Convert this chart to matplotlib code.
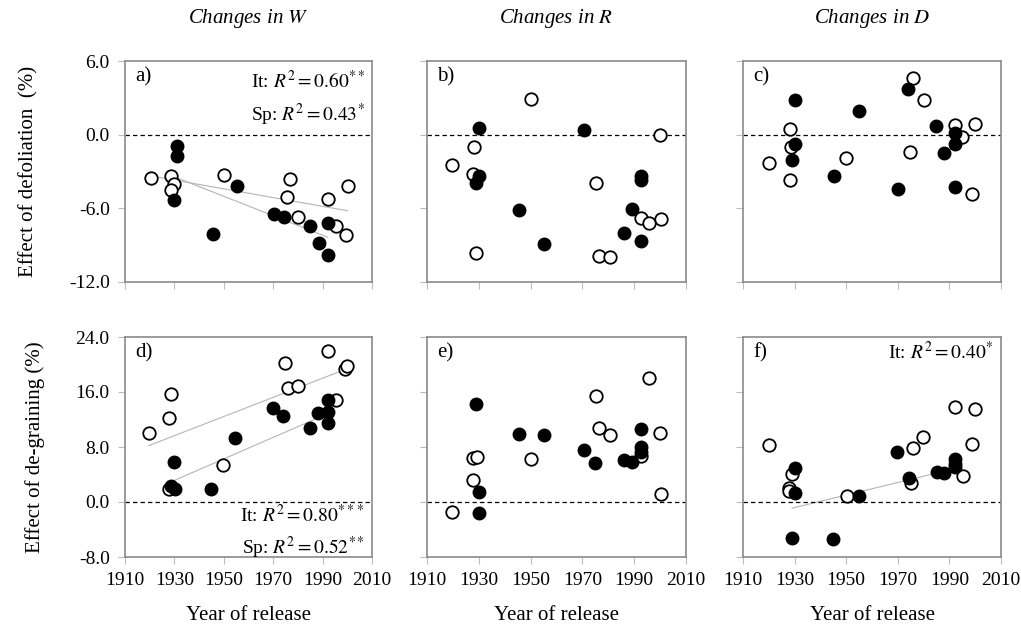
import matplotlib
matplotlib.use('Agg')
import matplotlib.pyplot as plt

plt.rcParams['font.family'] = ['Liberation Serif', 'DejaVu Serif']
plt.rcParams['mathtext.fontset'] = 'stix'

# panel a) defoliation, changes in W
a_open_yr = [1920.6, 1928.7, 1930, 1928.7, 1950, 1976.6, 1975.5, 1980.2, 1992, 2000.2, 1995.4, 1999.4]
a_open_val = [-3.5, -3.4, -4.0, -4.5, -3.3, -3.6, -5.1, -6.7, -5.2, -4.2, -7.4, -8.2]
a_fill_yr = [1931, 1931, 1930, 1945.7, 1955.4, 1970.3, 1974.3, 1985, 1988.4, 1992, 1992]
a_fill_val = [-0.9, -1.7, -5.3, -8.1, -4.2, -6.5, -6.7, -7.4, -8.8, -7.2, -9.8]
a_open_fit = ([1923, 2000.2], [-3.45, -6.2])
a_fill_fit = ([1929.6, 1992], [-3.4, -8.35])

# panel b) defoliation, changes in R
b_open_yr = [1919.5, 1928, 1927.8, 1929.1, 1950, 1975.1, 1976.4, 1980.7, 1999.8, 1992.7, 1995.9, 2000.5]
b_open_val = [-2.5, -1.0, -3.2, -9.6, 2.9, -3.9, -9.9, -9.95, 0.0, -6.8, -7.2, -6.9]
b_fill_yr = [1930.2, 1930.2, 1929.1, 1945.4, 1955.3, 1970.5, 1985.9, 1989, 1992.7, 1992.7, 1992.7]
b_fill_val = [0.55, -3.4, -3.9, -6.1, -8.9, 0.35, -8.0, -6.05, -3.4, -3.7, -8.7]

# panel c) defoliation, changes in D
c_open_yr = [1920.1, 1928.1, 1928.7, 1928.1, 1950, 1974.8, 1975.8, 1980.1, 1992.2, 1994.9, 2000, 1998.8]
c_open_val = [-2.3, 0.5, -1.0, -3.7, -1.9, -1.45, 4.6, 2.8, 0.75, -0.2, 0.85, -4.85]
c_fill_yr = [1930, 1930, 1929.1, 1945.1, 1954.9, 1970, 1973.9, 1984.8, 1992.2, 1992.2, 1987.8, 1992.2]
c_fill_val = [2.85, -0.8, -2.1, -3.4, 1.95, -4.45, 3.7, 0.7, 0.15, -0.75, -1.5, -4.3]

# panel d) de-graining, changes in W
d_open_yr = [1919.6, 1927.7, 1928.8, 1927.7, 1949.8, 1974.8, 1975.9, 1979.9, 1992.1, 1995.5, 1998.9, 2000]
d_open_val = [10.0, 12.2, 15.7, 1.85, 5.4, 20.2, 16.6, 16.9, 22.0, 14.9, 19.4, 19.8]
d_fill_yr = [1930, 1928.8, 1930.1, 1944.7, 1954.6, 1970, 1973.8, 1985, 1988.1, 1992.1, 1992.1, 1992.1]
d_fill_val = [5.75, 2.35, 1.85, 1.85, 9.35, 13.65, 12.5, 10.8, 12.9, 13.05, 14.9, 11.5]
d_open_fit = ([1919.6, 2000], [8.2, 19.4])
d_fill_fit = ([1929.7, 1992.1], [3.1, 12.85])

# panel e) de-graining, changes in R
e_open_yr = [1919.5, 1927.8, 1927.8, 1929.3, 1950, 1975.1, 1976.4, 1980.7, 1992.7, 1995.9, 1999.8, 2000.2]
e_open_val = [-1.45, 3.2, 6.45, 6.6, 6.2, 15.4, 10.8, 9.7, 6.7, 18.0, 10.1, 1.1]
e_fill_yr = [1929.1, 1930.2, 1930.2, 1945.4, 1955.3, 1970.5, 1974.8, 1985.9, 1989, 1992.7, 1992.7, 1992.7]
e_fill_val = [14.2, 1.5, -1.65, 9.85, 9.7, 7.55, 5.65, 6.05, 5.75, 10.6, 8.0, 7.3]

# panel f) de-graining, changes in D
f_open_yr = [1920, 1928.9, 1928, 1928, 1950.3, 1975.8, 1979.9, 1975.1, 1992, 2000.1, 1998.9, 1995.3]
f_open_val = [8.3, 4.05, 2.1, 1.6, 0.85, 7.8, 9.5, 2.75, 13.8, 13.6, 8.45, 3.75]
f_fill_yr = [1930, 1930, 1928.9, 1945, 1954.9, 1969.8, 1974.2, 1985, 1988, 1992.2, 1992.2, 1992.2]
f_fill_val = [5.0, 1.35, -5.2, -5.35, 0.85, 7.25, 3.55, 4.35, 4.15, 6.3, 5.6, 5.1]
f_fill_fit = ([1929, 1991.5], [-0.9, 4.8])

col_titles = ['Changes in $W$', 'Changes in $R$', 'Changes in $D$']
x_ticks = [1910, 1930, 1950, 1970, 1990, 2010]
top_ticks = [-12, -6, 0, 6]
bot_ticks = [-8, 0, 8, 16, 24]

W, H = 1021, 637
fig = plt.figure(figsize=(W / 100, H / 100), dpi=100)

cols = [(125, 247), (427, 259), (743, 258)]
rows = [(61, 282), (337, 557)]

panels = [
    ('a)', a_open_yr, a_open_val, a_fill_yr, a_fill_val, [a_open_fit, a_fill_fit]),
    ('b)', b_open_yr, b_open_val, b_fill_yr, b_fill_val, []),
    ('c)', c_open_yr, c_open_val, c_fill_yr, c_fill_val, []),
    ('d)', d_open_yr, d_open_val, d_fill_yr, d_fill_val, [d_open_fit, d_fill_fit]),
    ('e)', e_open_yr, e_open_val, e_fill_yr, e_fill_val, []),
    ('f)', f_open_yr, f_open_val, f_fill_yr, f_fill_val, [f_fill_fit]),
]

grey = '#8a8a8a'
axes = []
for i, (lab, oy, ov, fy, fv, fits) in enumerate(panels):
    r, c = divmod(i, 3)
    x0, w = cols[c]
    t, b = rows[r]
    ax = fig.add_axes([x0 / W, 1 - b / H, w / W, (b - t) / H])
    axes.append(ax)
    for fx, fvals in fits:
        ax.plot(fx, fvals, color='#b5b5b5', lw=0.8, zorder=1)
    ax.axhline(0, color='black', lw=0.9, ls=(0, (3.5, 2.5)), zorder=1)
    ax.plot(oy, ov, 'o', ms=9, mfc='white', mec='black', mew=1.3, ls='none', zorder=3)
    ax.plot(fy, fv, 'o', ms=9, mfc='black', mec='black', mew=1.0, ls='none', zorder=4)
    ax.set_xlim(1910, 2010)
    ax.set_xticks(x_ticks)
    if r == 0:
        ax.set_ylim(-12, 6)
        ax.set_yticks(top_ticks)
    else:
        ax.set_ylim(-8, 24)
        ax.set_yticks(bot_ticks)
    for sp in ax.spines.values():
        sp.set_color(grey)
        sp.set_linewidth(1.2)
    ax.tick_params(direction='out', length=5, width=0.8, color='#bdbdbd',
                   labelsize=14, pad=6)
    if c == 0:
        ax.set_yticklabels(['%.1f' % v for v in ax.get_yticks()])
    else:
        ax.set_yticklabels([])
    if r == 1:
        ax.set_xticklabels([str(v) for v in x_ticks])
        ax.set_xlabel('Year of release', fontsize=15, labelpad=12)
    else:
        ax.set_xticklabels([])
        fig.text((x0 + w / 2) / W, 1 - 19 / H, col_titles[c], fontsize=15,
                 style='italic', ha='center', va='center')
    ax.text(0.04, 0.93, lab, transform=ax.transAxes, fontsize=15, va='center', ha='left')

axes[0].set_ylabel('Effect of defoliation  (%)', fontsize=15, labelpad=22)
axes[3].set_ylabel('Effect of de-graining (%)', fontsize=15, labelpad=22)

ann = dict(fontsize=14, ha='right', va='center')
axes[0].text(0.97, 0.91, r'It: $R^2 = 0.60^{**}$', transform=axes[0].transAxes, **ann)
axes[0].text(0.97, 0.755, r'Sp: $R^2 = 0.43^{*}$', transform=axes[0].transAxes, **ann)
axes[3].text(0.97, 0.19, r'It: $R^2 = 0.80^{***}$', transform=axes[3].transAxes, **ann)
axes[3].text(0.97, 0.04, r'Sp: $R^2 = 0.52^{**}$', transform=axes[3].transAxes, **ann)
axes[5].text(0.97, 0.93, r'It: $R^2 = 0.40^{*}$', transform=axes[5].transAxes, **ann)

fig.savefig('out.png', dpi=100)
